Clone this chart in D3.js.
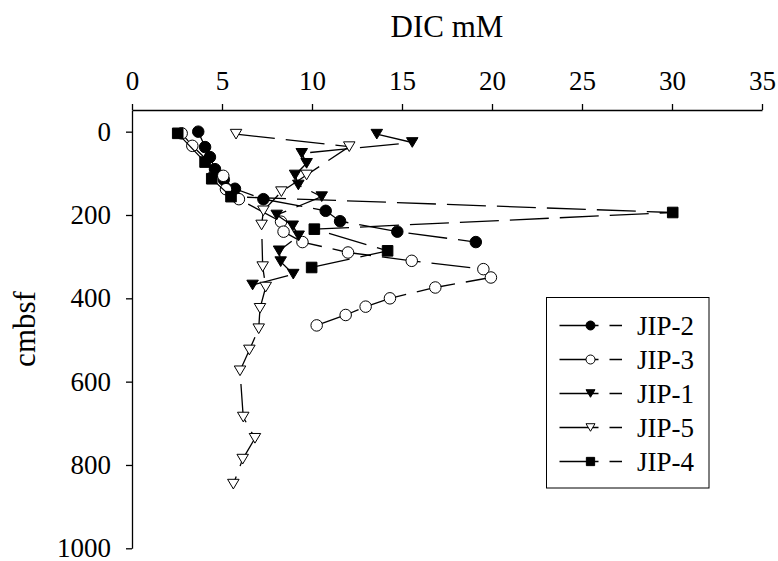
<!DOCTYPE html>
<html>
<head>
<meta charset="utf-8">
<script src="https://cdn.jsdelivr.net/npm/d3@7"></script>
<style>
  html, body { margin: 0; padding: 0; background: #fff; }
  svg { display: block; }
</style>
</head>
<body>
<svg id="chart" width="778" height="561"></svg>
<script>
// Dissolved inorganic carbon profiles (DIC, mM) against depth (cm below sea floor)
const seriesNames = ["JIP-2", "JIP-3", "JIP-1", "JIP-5", "JIP-4"];
const markerTypes = ["circleFilled", "circleOpen", "triFilled", "triOpen", "squareFilled"];

const jip2Depth = [0, 37, 61, 90, 115, 137, 162, 190, 215, 240, 265];
const jip2DIC   = [3.68, 4.06, 4.33, 4.61, 5.1, 5.72, 7.3, 10.76, 11.56, 14.74, 19.1];

const jip3Depth = [4, 34, 106, 138, 162, 216, 240, 265, 290, 310, 330, 350, 374, 400, 420, 440, 465];
const jip3DIC   = [2.76, 3.35, 5.07, 5.22, 5.94, 8.28, 8.42, 9.47, 12.0, 15.54, 19.52, 19.94, 16.85, 14.33, 12.98, 11.87, 10.26];

const jip1Depth = [6, 26, 52, 76, 104, 128, 156, 200, 226, 250, 286, 312, 342, 368];
const jip1DIC   = [13.6, 15.57, 9.43, 9.7, 9.06, 9.24, 10.54, 8.04, 8.93, 9.26, 8.17, 8.26, 8.96, 6.7];

const jip5Depth = [6, 36, 104, 144, 190, 224, 324, 373, 424, 473, 524, 574, 685, 736, 786, 846];
const jip5DIC   = [5.78, 12.07, 9.7, 8.3, 7.3, 7.2, 7.26, 7.43, 7.11, 7.04, 6.52, 6.0, 6.18, 6.83, 6.15, 5.63];

const jip4Depth = [4, 73, 113, 156, 194, 234, 286, 326];
const jip4DIC   = [2.54, 4.06, 4.43, 5.5, 30.04, 10.13, 14.2, 9.98];

const xTicks = [0, 5, 10, 15, 20, 25, 30, 35];
const yTicks = [0, 200, 400, 600, 800, 1000];

const series = [
  { name: seriesNames[0], marker: markerTypes[0], depth: jip2Depth, dic: jip2DIC },
  { name: seriesNames[1], marker: markerTypes[1], depth: jip3Depth, dic: jip3DIC },
  { name: seriesNames[2], marker: markerTypes[2], depth: jip1Depth, dic: jip1DIC },
  { name: seriesNames[3], marker: markerTypes[3], depth: jip5Depth, dic: jip5DIC },
  { name: seriesNames[4], marker: markerTypes[4], depth: jip4Depth, dic: jip4DIC }
];

const FONT = "'Liberation Serif', 'Times New Roman', Times, serif";

const svg = d3.select("#chart")
  .attr("font-family", FONT)
  .style("font-family", FONT);

// x runs along the top axis; depth increases downward, the axis line starts a little above 0
const x = d3.scaleLinear().domain([0, 35]).range([132, 762]);
const y = d3.scaleLinear().domain([-52, 1000]).range([110, 548.3]);

const DASH = "39,11";

// top axis
const xAxis = svg.append("g")
  .attr("transform", `translate(0,${y(-52)})`)
  .call(d3.axisTop(x).tickValues(xTicks).tickFormat(d3.format("d"))
    .tickSize(6).tickSizeOuter(0).tickPadding(14));

// left axis
const yAxis = svg.append("g")
  .attr("transform", `translate(${x(0)},0)`)
  .call(d3.axisLeft(y).tickValues(yTicks).tickFormat(d3.format("d"))
    .tickSize(6).tickSizeOuter(0).tickPadding(15));

[xAxis, yAxis].forEach(g => {
  g.attr("font-family", FONT).attr("font-size", 27);
  g.selectAll("text").attr("fill", "#000").style("font-family", FONT).style("font-size", "27px");
  g.selectAll("path, line").attr("stroke", "#000").attr("stroke-width", 1.3);
});

// titles
svg.append("text")
  .attr("x", 447).attr("y", 37)
  .attr("text-anchor", "middle")
  .style("font-family", FONT)
  .style("font-size", "31px")
  .text("DIC mM");

svg.append("text")
  .attr("transform", "translate(35,329) rotate(-90)")
  .attr("text-anchor", "middle")
  .style("font-family", FONT)
  .style("font-size", "31px")
  .text("cmbsf");

// marker shapes, centred on their bounding box
function markerPath(type, s) {
  const h = s / 2;
  if (type.startsWith("circle")) {
    const p = d3.path();
    p.arc(0, 0, h, 0, 2 * Math.PI);
    p.closePath();
    return p.toString();
  }
  if (type.startsWith("tri")) {
    const hh = s * 0.42;
    return `M${-h},${-hh}L${h},${-hh}L0,${hh}Z`;
  }
  const q = s * 0.46;
  return `M${-q},${-q}H${q}V${q}H${-q}Z`;
}
const isFilled = t => t.endsWith("Filled");

const line = d3.line().x(d => x(d[0])).y(d => y(d[1]));

series.forEach(s => {
  const pts = s.dic.map((v, i) => [v, s.depth[i]]);
  const g = svg.append("g");
  g.append("path")
    .attr("d", line(pts))
    .attr("fill", "none")
    .attr("stroke", "#000")
    .attr("stroke-width", 1.3)
    .attr("stroke-dasharray", DASH);
  g.selectAll("path.mk")
    .data(pts)
    .join("path")
    .attr("class", "mk")
    .attr("transform", d => `translate(${x(d[0])},${y(d[1])})`)
    .attr("d", markerPath(s.marker, 11.5))
    .attr("fill", isFilled(s.marker) ? "#000" : "#fff")
    .attr("stroke", "#000")
    .attr("stroke-width", 1);
});

// legend
const legend = svg.append("g");
legend.append("rect")
  .attr("x", 546.5).attr("y", 297.5)
  .attr("width", 162.5).attr("height", 190.5)
  .attr("fill", "#fff")
  .attr("stroke", "#000")
  .attr("stroke-width", 1);

series.forEach((s, i) => {
  const cy = 325.5 + i * 34;
  const row = legend.append("g");
  row.append("line")
    .attr("x1", 559.5).attr("x2", 622).attr("y1", cy).attr("y2", cy)
    .attr("stroke", "#000").attr("stroke-width", 1.3)
    .attr("stroke-dasharray", DASH);
  row.append("path")
    .attr("transform", `translate(590.5,${cy})`)
    .attr("d", markerPath(s.marker, 9))
    .attr("fill", isFilled(s.marker) ? "#000" : "#fff")
    .attr("stroke", "#000").attr("stroke-width", 1);
  row.append("text")
    .attr("x", 637).attr("y", cy)
    .attr("dy", "0.35em")
    .style("font-family", FONT)
    .style("font-size", "27px")
    .text(s.name);
});
</script>
</body>
</html>
